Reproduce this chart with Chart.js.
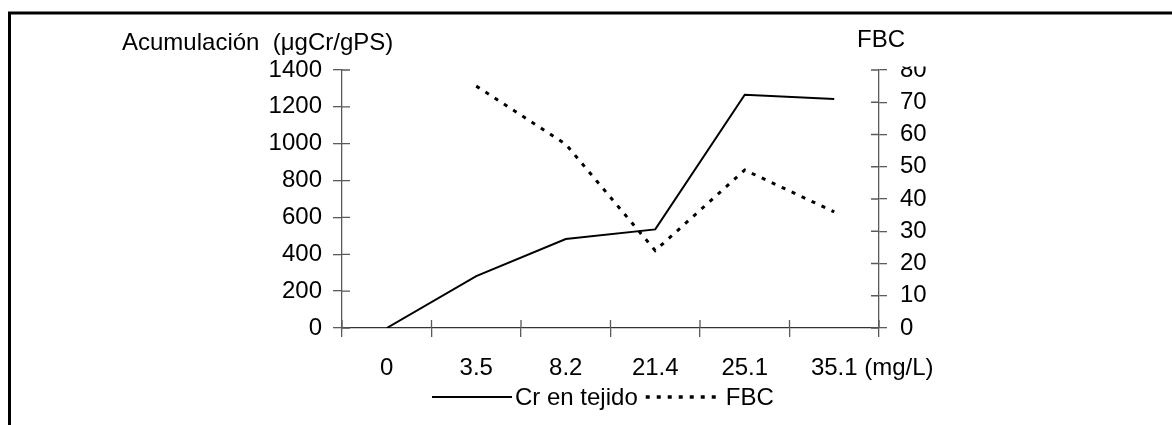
<!DOCTYPE html>
<html>
<head>
<meta charset="utf-8">
<script src="https://cdn.jsdelivr.net/npm/chart.js@4/dist/chart.umd.min.js"></script>
<style>
  html, body { margin: 0; padding: 0; background: #fff; }
  #wrap { width: 1172px; height: 425px; }
</style>
</head>
<body>
<div id="wrap"><canvas id="lineChart" width="1172" height="425"></canvas></div>
<script>
// concentraciones de Cr en el medio (mg/L)
const categories = ['0', '3.5', '8.2', '21.4', '25.1', '35.1'];
// acumulación en tejido (µgCr/gPS)
const crTejido = [0, 282, 483, 535, 1266, 1243];
// factor de bioconcentración (sin dato para el control)
const fbc = [null, 75, 57, 24, 49, 36];

const leftMax = 1400, leftStep = 200;
const rightMax = 80, rightStep = 10;

const FONT = '"Liberation Sans", Arial, sans-serif';
const axisColor = '#5a5a5a';

Chart.defaults.font.family = FONT;
Chart.defaults.font.size = 24;
Chart.defaults.color = '#000';

// marco, medias marcas interiores, títulos y leyenda
const extras = {
  id: 'extras',
  afterDraw(chart) {
    const ctx = chart.ctx;
    const xs = chart.scales.x, yl = chart.scales.y, yr = chart.scales.y1;
    const area = chart.chartArea;
    ctx.save();

    // marco superior e izquierdo
    ctx.strokeStyle = '#000';
    ctx.lineWidth = 3;
    ctx.beginPath();
    ctx.moveTo(9.5, 425);
    ctx.lineTo(9.5, 13);
    ctx.lineTo(1172, 13);
    ctx.stroke();

    // las marcas cruzan el eje
    ctx.strokeStyle = axisColor;
    ctx.lineWidth = 1.3;
    ctx.beginPath();
    yl.ticks.forEach((t, i) => {
      const y = yl.getPixelForTick(i);
      ctx.moveTo(area.left, y); ctx.lineTo(area.left + 8, y);
    });
    yr.ticks.forEach((t, i) => {
      const y = yr.getPixelForTick(i);
      ctx.moveTo(area.right - 8, y); ctx.lineTo(area.right, y);
    });
    const step = (area.right - area.left) / categories.length;
    for (let i = 0; i <= categories.length; i++) {
      const x = area.left + i * step;
      ctx.moveTo(x, area.bottom - 8); ctx.lineTo(x, area.bottom);
    }
    ctx.stroke();

    ctx.fillStyle = '#000';
    ctx.font = '24px ' + FONT;

    // unidad tras la última etiqueta del eje x
    const last = categories.length - 1;
    const lx = xs.getPixelForValue(last) + ctx.measureText(categories[last]).width / 2;
    const tickY = xs._labelItems ? xs._labelItems[last].options.translation[1] : area.bottom + 26;
    ctx.textBaseline = 'middle';
    ctx.fillText(' (mg/L)', lx, tickY + 14.4);
    ctx.textBaseline = 'alphabetic';

    // títulos de los ejes
    ctx.fillText('Acumulación  (\u03BCgCr/gPS)', 122, 50);
    ctx.fillStyle = '#fff';
    ctx.fillRect(850, 20, 90, 46.5);
    ctx.fillStyle = '#000';
    ctx.fillText('FBC', 857, 47);

    // leyenda
    let x = 432;
    const ly = 397;
    const sets = chart.data.datasets;
    ctx.strokeStyle = sets[0].borderColor;
    ctx.lineWidth = sets[0].borderWidth;
    ctx.beginPath(); ctx.moveTo(x, ly); ctx.lineTo(x + 80, ly); ctx.stroke();
    x += 83;
    ctx.fillText(sets[0].label, x, 405);
    x += ctx.measureText(sets[0].label).width + 8;
    ctx.setLineDash([4, 7]);
    ctx.lineWidth = 3.5;
    ctx.beginPath(); ctx.moveTo(x, ly); ctx.lineTo(x + 72, ly); ctx.stroke();
    ctx.setLineDash([]);
    x += 80;
    ctx.fillText(sets[1].label, x, 405);

    ctx.restore();
  }
};

new Chart(document.getElementById('lineChart').getContext('2d'), {
  type: 'line',
  data: {
    labels: categories,
    datasets: [{
      label: 'Cr en tejido',
      data: crTejido,
      yAxisID: 'y',
      borderColor: '#000',
      borderWidth: 2,
      pointRadius: 0,
      tension: 0,
      fill: false
    }, {
      label: 'FBC',
      data: fbc,
      yAxisID: 'y1',
      borderColor: '#000',
      borderWidth: 3,
      borderDash: [4, 7],
      pointRadius: 0,
      tension: 0,
      fill: false
    }]
  },
  options: {
    responsive: false,
    animation: false,
    devicePixelRatio: 1,
    layout: { padding: { left: 252, right: 213, top: 70, bottom: 27 } },
    plugins: {
      legend: { display: false },
      tooltip: { enabled: false }
    },
    scales: {
      x: {
        offset: true,
        grid: { offset: true, drawOnChartArea: false, color: axisColor, lineWidth: 1.3, tickLength: 9 },
        border: { color: '#333', width: 1.3 },
        ticks: { padding: 17, maxRotation: 0, autoSkip: false },
        afterFit(axis) { axis.height = 70; axis.paddingLeft = 0; axis.paddingRight = 0; }
      },
      y: {
        position: 'left',
        min: 0,
        max: leftMax,
        grid: { drawOnChartArea: false, color: axisColor, lineWidth: 1.3, tickLength: 9 },
        border: { color: axisColor, width: 1.3 },
        ticks: { stepSize: leftStep, padding: 11, autoSkip: false, callback: v => String(v) },
        afterFit(axis) { axis.width = 90; axis.paddingTop = 0; axis.paddingBottom = 0; }
      },
      y1: {
        position: 'right',
        min: 0,
        max: rightMax,
        grid: { drawOnChartArea: false, color: axisColor, lineWidth: 1.3, tickLength: 8 },
        border: { color: axisColor, width: 1.3 },
        ticks: { stepSize: rightStep, padding: 13, autoSkip: false, callback: v => String(v) },
        afterFit(axis) { axis.width = 80; axis.paddingTop = 0; axis.paddingBottom = 0; }
      }
    }
  },
  plugins: [extras]
});
</script>
</body>
</html>
